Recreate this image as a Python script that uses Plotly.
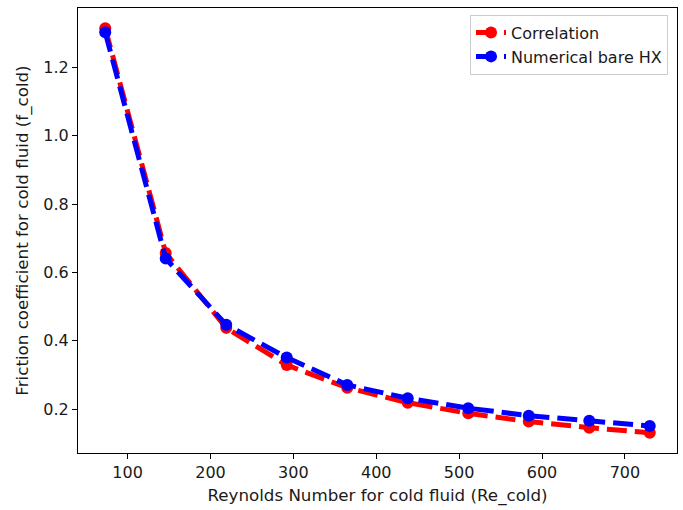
import plotly.graph_objects as go

re_cold = [73, 146, 219, 292, 365, 438, 511, 584, 657, 730]
f_correlation = [1.315, 0.657, 0.438, 0.329, 0.263, 0.219, 0.188, 0.164, 0.146, 0.131]
f_numerical = [1.303, 0.641, 0.447, 0.351, 0.271, 0.232, 0.203, 0.181, 0.166, 0.151]

series_names = ["Correlation", "Numerical bare HX"]
series_colors = ["#ff0000", "#0000ff"]

FONT = "DejaVu Sans, Verdana, sans-serif"
FS = 16

fig = go.Figure()
for name, vals, col in zip(series_names, [f_correlation, f_numerical], series_colors):
    fig.add_trace(go.Scatter(
        x=re_cold, y=vals, name=name, mode="lines+markers",
        line=dict(color=col, width=5, dash="20px,8px"),
        marker=dict(color=col, size=12),
    ))

def pad(lo, hi, m=0.05):
    d = hi - lo
    return [lo - m * d, hi + m * d]

xr = pad(min(re_cold), max(re_cold))
yr = pad(min(f_correlation + f_numerical), max(f_correlation + f_numerical))

axis_common = dict(
    showgrid=False, zeroline=False, showline=True, mirror=True,
    linecolor="black", linewidth=1, ticks="outside", ticklen=5,
    tickwidth=1, tickcolor="black", automargin=False,
    tickfont=dict(family=FONT, size=FS, color="#1a1a1a"),
)

fig.update_layout(
    width=683, height=510,
    margin=dict(l=78, r=6, t=8, b=57),
    paper_bgcolor="white", plot_bgcolor="white",
    font=dict(family=FONT, size=FS, color="#1a1a1a"),
    xaxis=dict(range=xr, tickvals=[100, 200, 300, 400, 500, 600, 700],
               title=dict(text="Reynolds Number for cold fluid (Re_cold)",
                          font=dict(family=FONT, size=16.7), standoff=8),
               **axis_common),
    yaxis=dict(range=yr, tickvals=[0.2, 0.4, 0.6, 0.8, 1.0, 1.2],
               ticktext=["0.2", "0.4", "0.6", "0.8", "1.0", "1.2"],
               title=dict(text="Friction coefficient for cold fluid (f_cold)",
                          font=dict(family=FONT, size=16.7), standoff=10),
               **axis_common),
    legend=dict(x=0.985, y=0.985, xanchor="right", yanchor="top",
                bgcolor="rgba(255,255,255,0.8)", bordercolor="#cccccc",
                borderwidth=1, font=dict(family=FONT, size=FS),
                itemwidth=30, tracegroupgap=2),
    showlegend=True,
)

fig.write_html("out.html", config={"displayModeBar": False},
               post_script="document.body.style.margin='0';document.body.style.padding='0';")
